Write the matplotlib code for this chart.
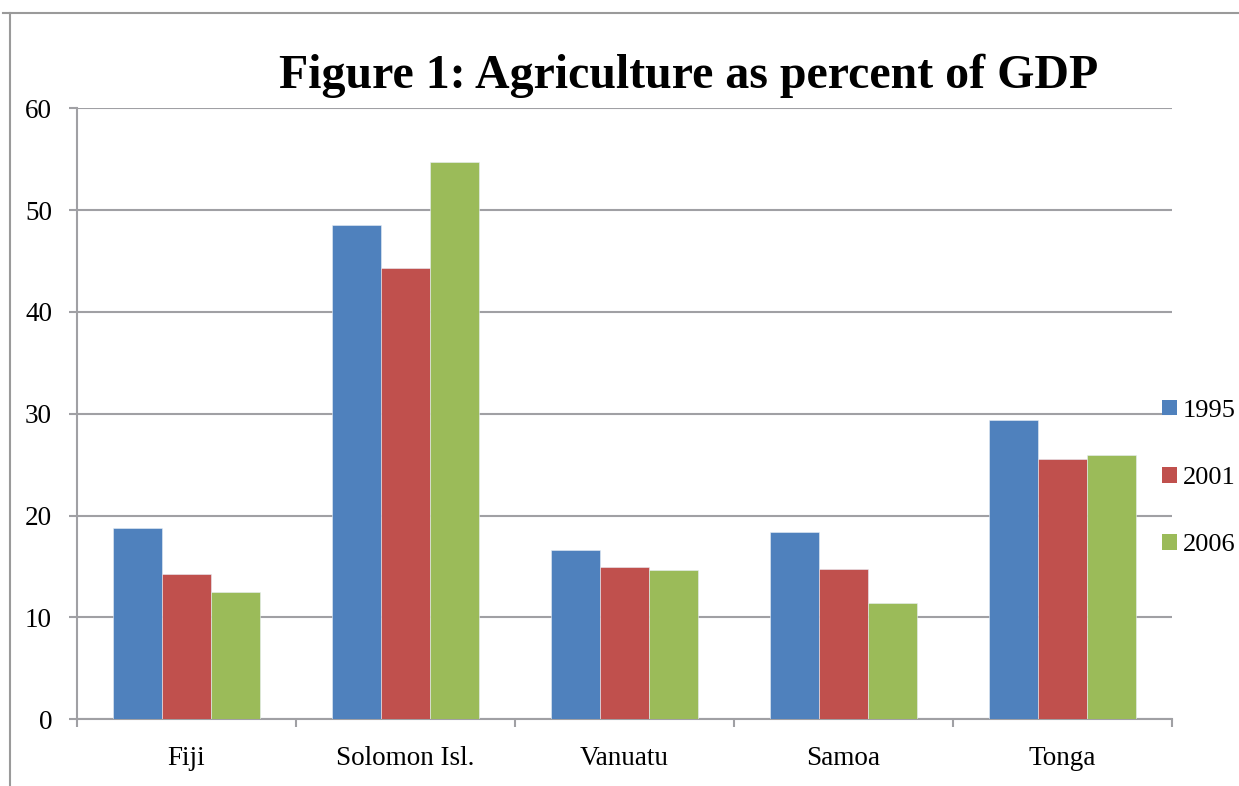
import numpy as np
import matplotlib.pyplot as plt
from matplotlib.lines import Line2D
from matplotlib.patches import Patch

countries = ['Fiji', 'Solomon Isl.', 'Vanuatu', 'Samoa', 'Tonga']
years = ['1995', '2001', '2006']
v1995 = [18.8, 48.5, 16.6, 18.4, 29.4]
v2001 = [14.3, 44.3, 15.0, 14.8, 25.6]
v2006 = [12.5, 54.7, 14.7, 11.4, 26.0]
colors = ['#4F81BD', '#C0504D', '#9BBB59']
grey = '#A0A0A4'

plt.rcParams['font.family'] = ['Liberation Serif', 'DejaVu Serif']

fig = plt.figure(figsize=(12.39, 7.86), dpi=100)
ax = fig.add_axes([0.0622, 0.0849, 0.8837, 0.7773])

x = np.arange(len(countries))
w = 0.224
for k, vals in enumerate([v1995, v2001, v2006]):
    ax.bar(x + (k - 1) * w, vals, width=w, color=colors[k],
           edgecolor='#E8EEF6', linewidth=0.4, label=years[k], zorder=3)

ax.set_xlim(-0.5, len(countries) - 0.5)
ax.set_ylim(0, 60)
ax.set_yticks(range(0, 61, 10))
ax.set_xticks(x)
ax.set_xticklabels(countries)
ax.set_xticks(np.arange(-0.5, len(countries)), minor=True)

ax.grid(axis='y', color=grey, linewidth=1.5, zorder=0)
for s in ['top', 'right']:
    ax.spines[s].set_visible(False)
for s in ['left', 'bottom']:
    ax.spines[s].set_color(grey)
    ax.spines[s].set_linewidth(1.5)

ax.tick_params(axis='y', direction='out', length=6, width=1.5, color=grey,
               labelsize=19.5, pad=12)
ax.tick_params(axis='x', which='major', length=0, labelsize=19.5, pad=19)
ax.tick_params(axis='x', which='minor', direction='out', length=5.5,
               width=1.5, color=grey)

handles = [Patch(facecolor=c) for c in colors]
fig.legend(handles, years, loc='center left',
           bbox_to_anchor=(1162 / 1239, 0.392), frameon=False, fontsize=19,
           handlelength=0.55, handleheight=0.55, handletextpad=0.25,
           labelspacing=1.7, borderpad=0, borderaxespad=0)

fig.text(689 / 1239, 1 - 88 / 786, 'Figure 1: Agriculture as percent of GDP',
         ha='center', va='baseline', fontsize=34.5, fontweight='bold')

# outer chart border (top and left edges)
fig.add_artist(Line2D([3 / 1239, 1], [1 - 13 / 786] * 2, color='#9A9A9A',
                      linewidth=1.5, transform=fig.transFigure))
fig.add_artist(Line2D([10 / 1239] * 2, [0, 1 - 13 / 786], color='#9A9A9A',
                      linewidth=1.5, transform=fig.transFigure))

fig.savefig('out.png', dpi=100)
